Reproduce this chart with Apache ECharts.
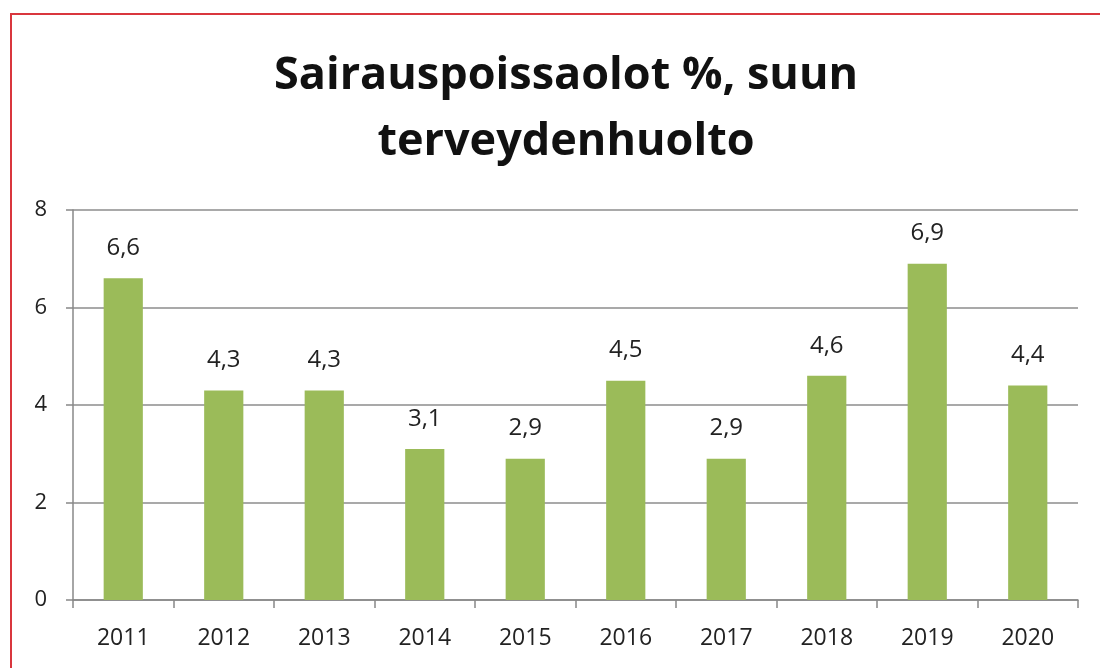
<!DOCTYPE html>
<html>
<head>
<meta charset="utf-8">
<script src="https://cdn.jsdelivr.net/npm/echarts@6/dist/echarts.min.js"></script>
<style>
  html, body { margin: 0; padding: 0; background: #fff; }
  #main { width: 1100px; height: 668px; }
</style>
</head>
<body>
<div id="main"></div>
<script>
// vuodet ja arvot
var years = ['2011', '2012', '2013', '2014', '2015', '2016', '2017', '2018', '2019', '2020'];
var sickLeave = [6.6, 4.3, 4.3, 3.1, 2.9, 4.5, 2.9, 4.6, 6.9, 4.4];
var yTicks = [0, 2, 4, 6, 8];

var myChart = echarts.init(document.getElementById('main'));
var font = '"Open Sans", Lato, sans-serif';

var option = {
    animation: false,
    backgroundColor: '#fff',
    graphic: [
        {
            // punainen kehys
            type: 'rect',
            shape: { x: 11, y: 14, width: 1200, height: 800 },
            style: { fill: 'none', stroke: '#d9363e', lineWidth: 2 }
        }
    ],
    title: {
        text: 'Sairauspoissaolot %, suun\nterveydenhuolto',
        left: 561,
        top: 38,
        textAlign: 'center',
        textStyle: {
            fontFamily: font,
            fontSize: 45,
            fontWeight: 'bold',
            color: '#111',
            lineHeight: 66
        }
    },
    grid: {
        left: 73,
        right: 22,
        top: 210,
        bottom: 68
    },
    xAxis: {
        type: 'category',
        data: years,
        axisLine: { lineStyle: { color: '#888', width: 1.5 } },
        axisTick: { show: true, alignWithLabel: false, length: 8, lineStyle: { color: '#888', width: 1.5 } },
        axisLabel: { fontFamily: font, fontSize: 23, color: '#222', margin: 27 }
    },
    yAxis: {
        type: 'value',
        min: yTicks[0],
        max: yTicks[yTicks.length - 1],
        interval: 2,
        axisLine: { show: true, lineStyle: { color: '#888', width: 1.5 } },
        axisTick: { show: true, length: 7, lineStyle: { color: '#888', width: 1.5 } },
        axisLabel: { fontFamily: font, fontSize: 22, color: '#222', margin: 26 },
        splitLine: { lineStyle: { color: '#8c8c8c', width: 1.5 } }
    },
    series: [
        {
            type: 'bar',
            data: sickLeave,
            barWidth: '39%',
            itemStyle: { color: '#9bbb59' },
            label: {
                show: true,
                position: 'top',
                distance: 18,
                fontFamily: font,
                fontSize: 24,
                color: '#222',
                formatter: function (p) {
                    return p.value.toFixed(1).replace('.', ',');
                }
            }
        }
    ]
};
myChart.setOption(option);
</script>
</body>
</html>
